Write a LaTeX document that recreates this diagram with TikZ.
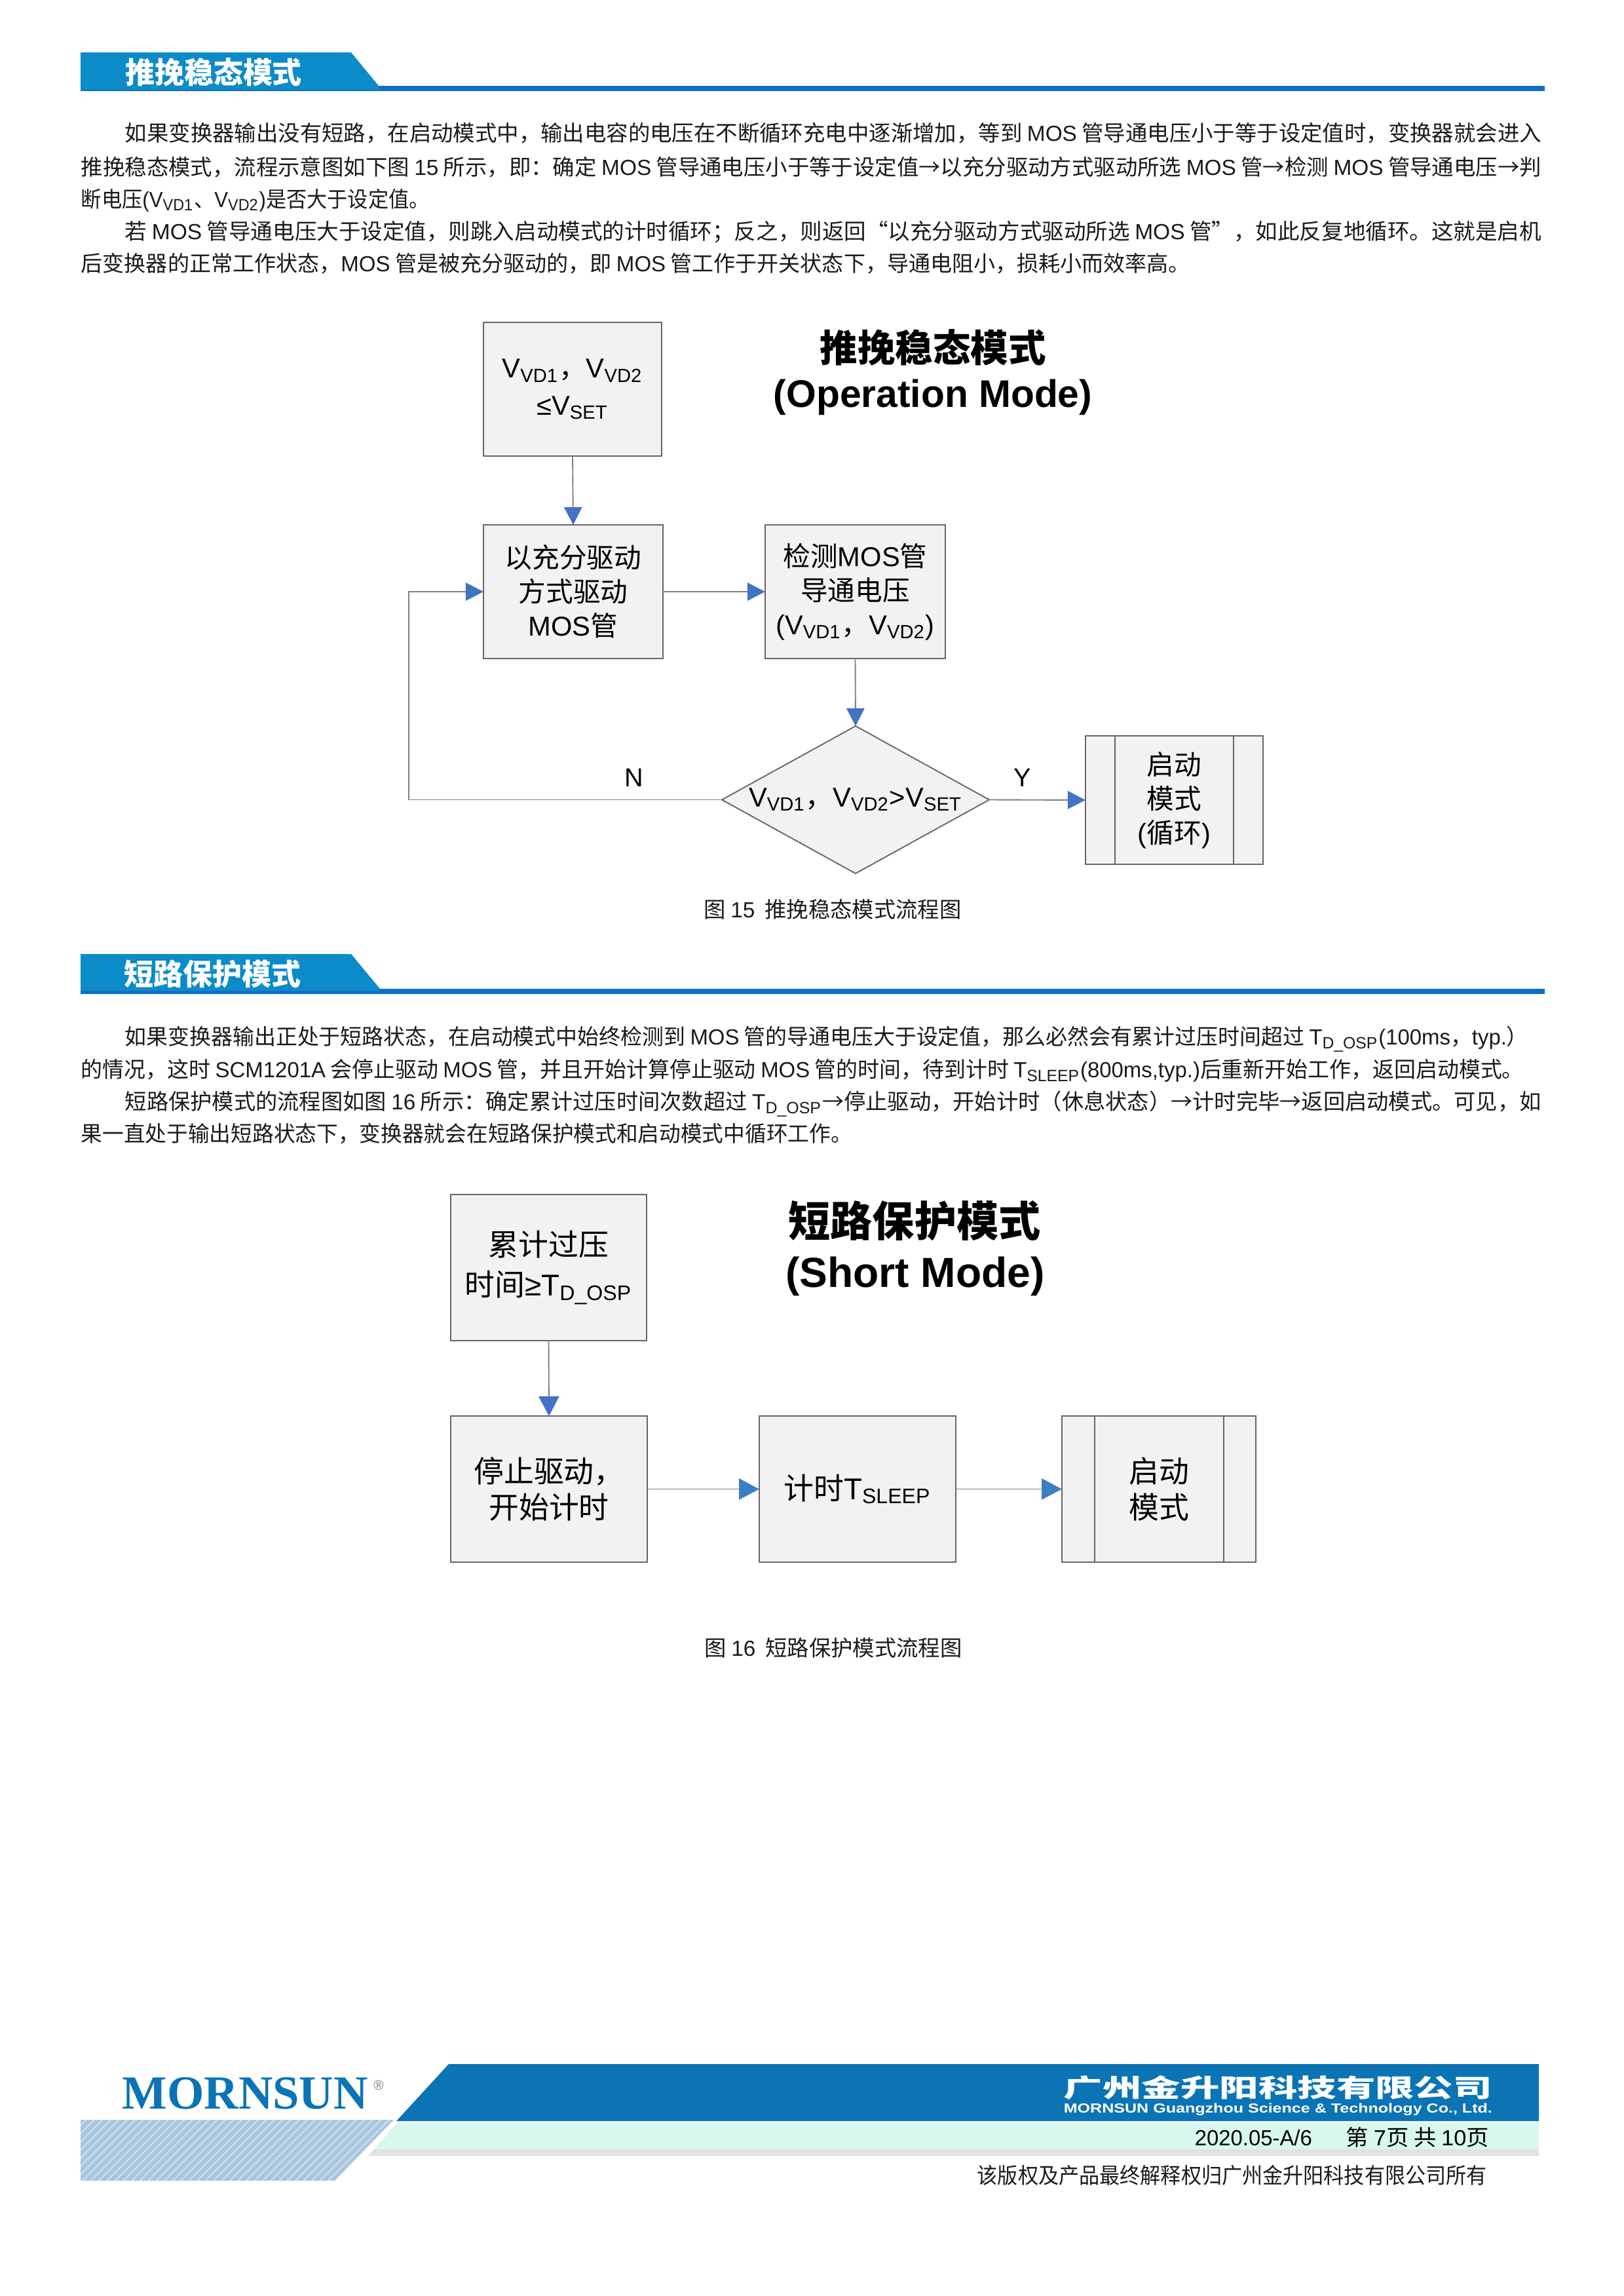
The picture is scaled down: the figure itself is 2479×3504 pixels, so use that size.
\documentclass[tikz,border=0pt]{standalone}
\usepackage{fontspec}
\usepackage{graphicx}
\usetikzlibrary{arrows.meta,shapes.geometric,patterns}
\setmainfont{Noto Sans CJK SC}
\newfontfamily\la{Liberation Sans}
\newfontfamily\lser{Liberation Serif}
\newcommand\lt[1]{{\la #1}}
\newcommand\V[1]{{\la V\textsubscript{#1}}}
\newcommand\Tsb[1]{{\la T\textsubscript{#1}}}
\newcommand\fit[2]{\resizebox{\dimexpr#1pt*24/100\relax}{\height}{#2}}
\definecolor{hdA}{HTML}{0C8BC9}
\definecolor{hdB}{HTML}{0E6FC8}
\definecolor{boxf}{HTML}{F2F2F2}
\definecolor{boxl}{HTML}{666666}
\definecolor{lin}{HTML}{808080}
\definecolor{arA}{HTML}{4472C4}
\definecolor{arB}{HTML}{3A80C5}
\definecolor{footA}{HTML}{0B74B5}
\definecolor{footP}{HTML}{D8F8EE}
\definecolor{footG}{HTML}{E2E2E2}
\definecolor{hatchA}{HTML}{A9C6E0}
\definecolor{tx}{HTML}{1A1A1A}
\tikzset{
  x=0.24pt,y=-0.24pt,
  bodyline/.style={anchor=base west,inner sep=0pt,text=tx,font=\fontsize{8}{10}\selectfont},
  caption/.style={inner sep=0pt,text=tx,font=\fontsize{8}{10}\selectfont},
  headtxt/.style={inner sep=0pt,text=white,font=\fontsize{10.8}{12}\selectfont\bfseries},
  flowbox/.style={draw=boxl,fill=boxf,line width=0.45pt,inner sep=0pt,outer sep=0pt,align=center,text=black},
  fonta/.style={font=\fontsize{10}{12.5}\selectfont},
  fontb/.style={font=\fontsize{11}{13.4}\selectfont},
  conn/.style={draw=lin,line width=0.45pt},
  arra/.style={conn,-{Triangle[length=6.5pt,width=6.6pt,color=arA]}},
  arrb/.style={conn,-{Triangle[length=7.2pt,width=7.5pt,color=arA]}},
  arrc/.style={conn,-{Triangle[length=7.4pt,width=7.7pt,color=arB]}},
  lbl/.style={inner sep=0pt,text=black,font=\fontsize{9.5}{11}\selectfont\la},
  ttl/.style={inner sep=0pt,text=black,align=center},
  inner/.style={draw=boxl,line width=0.45pt},
}
\begin{document}
\begin{tikzpicture}
\useasboundingbox (0,0) rectangle (2479,3504);

% ---------- section header 1
\fill[hdB] (123,131) rectangle (2358,139);
\fill[hdA] (123,80) -- (536,80) -- (578,131) -- (123,131) -- cycle;
\fill[hdA] (123,131) rectangle (578,137);
\node[headtxt] (h1) at (326,110) {推挽稳态模式};

% ---------- body 1
\node[bodyline] (p1a) at (190,215) {\fit{2162}{如果变换器输出没有短路，在启动模式中，输出电容的电压在不断循环充电中逐渐增加，等到 \lt{MOS} 管导通电压小于等于设定值时，变换器就会进入}};
\node[bodyline] (p1b) at (123,267) {\fit{2229}{推挽稳态模式，流程示意图如下图 \lt{15} 所示，即：确定 \lt{MOS} 管导通电压小于等于设定值→以充分驱动方式驱动所选 \lt{MOS} 管→检测 \lt{MOS} 管导通电压→判}};
\node[bodyline] (p1c) at (123,316) {\fit{532}{断电压\lt{(}\V{VD1}、\V{VD2}\lt{)}是否大于设定值。}};
\node[bodyline] (p1d) at (190,365) {\fit{2162}{若 \lt{MOS} 管导通电压大于设定值，则跳入启动模式的计时循环；反之，则返回“以充分驱动方式驱动所选 \lt{MOS} 管”，如此反复地循环。这就是启机}};
\node[bodyline] (p1e) at (123,414) {\fit{1693}{后变换器的正常工作状态，\lt{MOS} 管是被充分驱动的，即 \lt{MOS} 管工作于开关状态下，导通电阻小，损耗小而效率高。}};

% ---------- flow chart 15
\node[flowbox,fonta,minimum width=272*0.24pt,minimum height=204*0.24pt] (a1) at (874,594) {\V{VD1}，\V{VD2}\\[1pt]{\la ≤}\V{SET}};
\node[flowbox,fonta,minimum width=274*0.24pt,minimum height=204*0.24pt] (a2) at (875,903) {以充分驱动\\方式驱动\\\lt{MOS}管};
\node[flowbox,fonta,minimum width=275*0.24pt,minimum height=204*0.24pt] (a3) at (1305.5,903) {检测\lt{MOS}管\\导通电压\\\lt{(}\V{VD1}，\V{VD2}\lt{)}};
\node[flowbox,fonta,diamond,aspect=1.81,minimum width=408*0.24pt,minimum height=225*0.24pt] (a4) at (1306,1220.5) {\V{VD1}，\V{VD2}\lt{>}\V{SET}};
\node[flowbox,fonta,minimum width=271*0.24pt,minimum height=196*0.24pt] (a5) at (1792.5,1221) {启动\\模式\\\lt{(}循环\lt{)}};
\draw[inner] ([xshift=45*0.24pt]a5.north west) -- ([xshift=45*0.24pt]a5.south west);
\draw[inner] ([xshift=-45*0.24pt]a5.north east) -- ([xshift=-45*0.24pt]a5.south east);
\coordinate (lp) at (624,1220.5);
\draw[arra] (a1.south) -- (a2.north);
\draw[arra] (a2.east) -- (a3.west);
\draw[arra] (a3.south) -- (a4.north);
\draw[arra] (a4.west) -- (lp) |- (a2.west);
\draw[arra] (a4.east) -- (a5.west);
\node[lbl] (ln) at (968,1187) {N};
\node[lbl] (ly) at (1561,1187) {Y};
\node[ttl] (t1a) at (1424,530) {\fontsize{13.8}{16}\selectfont\bfseries 推挽稳态模式};
\node[ttl] (t1b) at (1424,606) {\fontsize{14.1}{16}\selectfont\la\bfseries (Operation Mode)};
\node[caption] (c1) at (1271,1388) {图 \lt{15} \ 推挽稳态模式流程图};

% ---------- section header 2
\fill[hdB] (123,1509) rectangle (2358,1517);
\fill[hdA] (123,1456) -- (536,1456) -- (580,1509) -- (123,1509) -- cycle;
\fill[hdA] (123,1509) rectangle (580,1512);
\node[headtxt] (h2) at (324,1486) {短路保护模式};

% ---------- body 2
\node[bodyline] (p2a) at (190,1594) {\fit{2142}{如果变换器输出正处于短路状态，在启动模式中始终检测到 \lt{MOS} 管的导通电压大于设定值，那么必然会有累计过压时间超过 \Tsb{D\_OSP}\lt{(100ms}，\lt{typ.}）}};
\node[bodyline] (p2b) at (123,1644) {\fit{2202}{的情况，这时 \lt{SCM1201A} 会停止驱动 \lt{MOS} 管，并且开始计算停止驱动 \lt{MOS} 管的时间，待到计时 \Tsb{SLEEP}\lt{(800ms,typ.)}后重新开始工作，返回启动模式。}};
\node[bodyline] (p2c) at (190,1693) {\fit{2162}{短路保护模式的流程图如图 \lt{16} 所示：确定累计过压时间次数超过 \Tsb{D\_OSP}→停止驱动，开始计时（休息状态）→计时完毕→返回启动模式。可见，如}};
\node[bodyline] (p2d) at (123,1742) {\fit{1177}{果一直处于输出短路状态下，变换器就会在短路保护模式和启动模式中循环工作。}};

% ---------- flow chart 16
\node[flowbox,fontb,minimum width=299*0.24pt,minimum height=223*0.24pt] (b1) at (837.5,1934.5) {累计过压\\[1.4pt]时间{\la ≥}\Tsb{D\_OSP}};
\node[flowbox,fontb,minimum width=300*0.24pt,minimum height=223*0.24pt] (b2) at (838,2272.5) {停止驱动，\\开始计时};
\node[flowbox,fontb,minimum width=300*0.24pt,minimum height=223*0.24pt] (b3) at (1309,2272.5) {计时\Tsb{SLEEP}};
\node[flowbox,fontb,minimum width=296*0.24pt,minimum height=223*0.24pt] (b4) at (1769,2272.5) {启动\\模式};
\draw[inner] ([xshift=50*0.24pt]b4.north west) -- ([xshift=50*0.24pt]b4.south west);
\draw[inner] ([xshift=-49*0.24pt]b4.north east) -- ([xshift=-49*0.24pt]b4.south east);
\draw[arrb] (b1.south) -- (b2.north);
\draw[arrc] (b2.east) -- (b3.west);
\draw[arrc] (b3.east) -- (b4.west);
\node[ttl] (t2a) at (1396,1863) {\fontsize{15.4}{18}\selectfont\bfseries 短路保护模式};
\node[ttl] (t2b) at (1397,1948) {\fontsize{15.4}{18}\selectfont\la\bfseries (Short Mode)};
\node[caption] (c2) at (1272,2515) {图 \lt{16} \ 短路保护模式流程图};

% ---------- footer
\fill[footP] (607,3240) -- (2349,3240) -- (2349,3280) -- (571,3280) -- cycle;
\fill[footG] (571,3280) -- (2349,3280) -- (2349,3290) -- (561,3290) -- cycle;
\fill[hatchA] (123,3235) -- (601,3235) -- (511,3328) -- (123,3328) -- cycle;
\fill[pattern=north east lines,pattern color=white!55!hatchA] (123,3235) -- (601,3235) -- (511,3328) -- (123,3328) -- cycle;
\fill[footA] (685,3150) -- (2349,3150) -- (2349,3237) -- (605,3237) -- cycle;
\node[anchor=base west,inner sep=0pt,text=footA] (lg) at (186,3218) {\resizebox{\dimexpr375pt*24/100\relax}{!}{\lser\bfseries MORNSUN}};
\node[inner sep=0pt,text=gray,font=\fontsize{5}{6}\selectfont\la] (rg) at (578,3182) {®};
\node[anchor=base west,inner sep=0pt,text=white] (cn) at (1623,3200) {\resizebox{\dimexpr654pt*24/100\relax}{\dimexpr33pt*24/100\relax}{\bfseries 广州金升阳科技有限公司}};
\node[anchor=base west,inner sep=0pt,text=white] (en) at (1623,3224) {\fit{654}{\fontsize{4.8}{6}\selectfont\la\bfseries MORNSUN Guangzhou Science \& Technology Co., Ltd.}};
\node[anchor=base west,inner sep=0pt,text=black] (dt) at (1823,3274) {\fit{179}{\fontsize{8}{10}\selectfont\la 2020.05-A/6}};
\node[anchor=base west,inner sep=0pt,text=black] (pg) at (2054,3274) {\fit{218}{\fontsize{8}{10}\selectfont 第 \lt{7}页 共 \lt{10}页}};
\node[anchor=base west,inner sep=0pt,text=tx] (cr) at (1491,3332) {\fit{778}{\fontsize{8}{10}\selectfont 该版权及产品最终解释权归广州金升阳科技有限公司所有}};
\end{tikzpicture}
\end{document}
